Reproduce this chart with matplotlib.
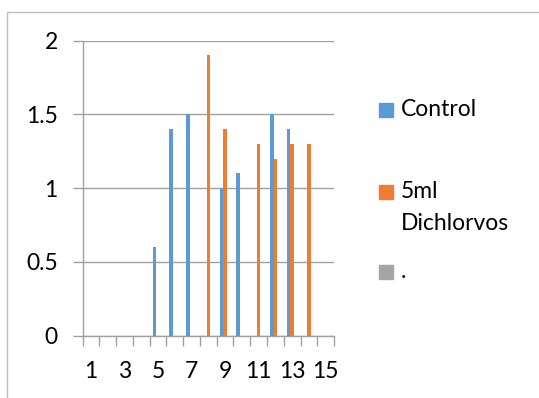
import matplotlib
matplotlib.use("Agg")
import matplotlib.pyplot as plt
from matplotlib.patches import Rectangle
import numpy as np

plt.rcParams["font.family"] = ["Lato", "DejaVu Sans"]

# data
categories = list(range(1, 16))
control = [0, 0, 0, 0, 0.6, 1.4, 1.5, 0, 1.0, 1.1, 0, 1.5, 1.4, 0, 0]
dichlorvos = [0, 0, 0, 0, 0, 0, 0, 1.9, 1.4, 0, 1.3, 1.2, 1.3, 1.3, 0]
dot_series = [0] * 15
series_names = ["Control", "5ml\nDichlorvos", "."]
colors = ["#5B9BD5", "#ED7D31", "#A5A5A5"]
xtick_labels = ["1", "3", "5", "7", "9", "11", "13", "15"]

fig = plt.figure(figsize=(5.39, 3.98), dpi=100)
ax = fig.add_axes([0.1534, 0.1565, 0.4663, 0.7412])

x = np.array(categories)
w = 0.22
for i, vals in enumerate([control, dichlorvos, dot_series]):
    ax.bar(x + (i - 1) * w, vals, width=w, color=colors[i], zorder=3)

grid_c = "#A0A0A0"
fs = 16.5
ax.set_xlim(0.5, 15.5)
ax.set_ylim(0, 2)
ax.set_yticks([0, 0.5, 1, 1.5, 2])
ax.set_yticklabels(["0", "0.5", "1", "1.5", "2"])
ax.yaxis.grid(True, color=grid_c, linewidth=1)
ax.set_axisbelow(True)

# category boundary ticks, labels on every second category
ax.set_xticks(np.arange(0.5, 16, 1))
ax.set_xticklabels([])
ax.set_xticks(x[::2], minor=True)
ax.set_xticklabels(xtick_labels, minor=True)
ax.tick_params(axis="x", which="major", length=7, color=grid_c, width=1, direction="out")
ax.tick_params(axis="x", which="minor", length=0, pad=18, labelsize=fs)
ax.tick_params(axis="y", length=7, color=grid_c, width=1, labelsize=fs, pad=11)

for s in ["top", "right"]:
    ax.spines[s].set_visible(False)
for s in ["left", "bottom"]:
    ax.spines[s].set_color(grid_c)
    ax.spines[s].set_linewidth(1)

# legend drawn by hand to keep the square beside the first text line
leg_x = 379 / 539
leg_rows = [110, 192, 272]
line_gap = 31
for name, col, yy in zip(series_names, colors, leg_rows):
    yf = 1 - yy / 398
    fig.patches.append(Rectangle((leg_x, yf - 7 / 398), 14 / 539, 14 / 398,
                                 transform=fig.transFigure, color=col))
    for k, part in enumerate(name.split("\n")):
        fig.text(401 / 539, 1 - (yy + k * line_gap) / 398, part,
                 va="center", ha="left", fontsize=fs,
                 transform=fig.transFigure)

# chart border
fig.patches.append(Rectangle((7 / 539, -0.1), 1.2, 1 - 12 / 398 + 0.1,
                             transform=fig.transFigure, fill=False,
                             edgecolor="#BFBFBF", linewidth=1))

fig.savefig("out.png", dpi=100)
